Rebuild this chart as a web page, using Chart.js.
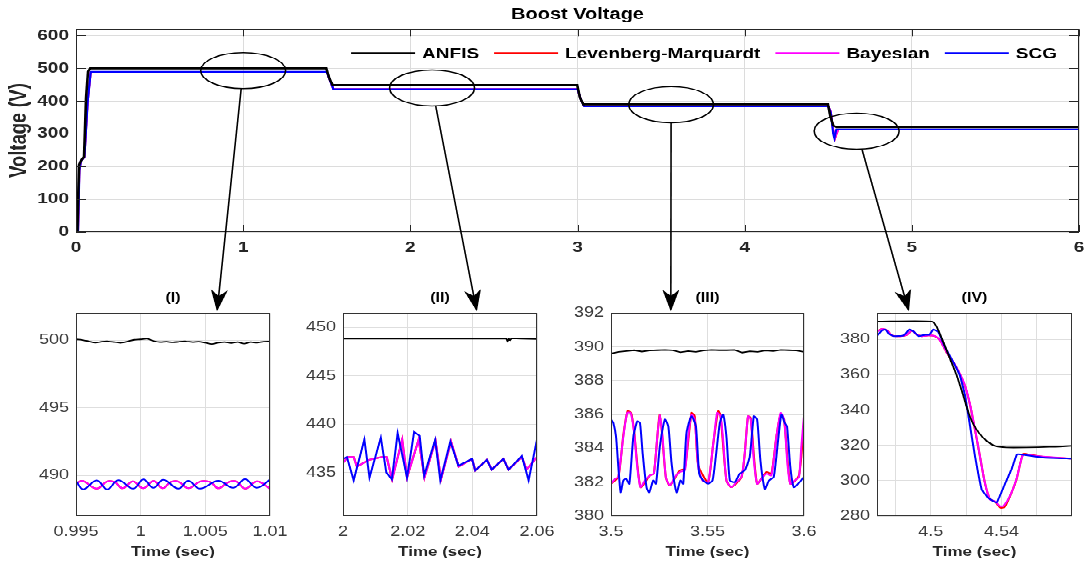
<!DOCTYPE html>
<html>
<head>
<meta charset="utf-8">
<script src="https://cdn.jsdelivr.net/npm/chart.js@4.4.1/dist/chart.umd.min.js"></script>
<style>
  html, body { margin: 0; padding: 0; background: #fff; overflow: hidden; }
  /* the reference figure is squashed vertically, so lay out tall and squash */
  #sheet { position: absolute; left: 0; top: 0; width: 1086px; height: 709px;
           transform: scaleY(0.8); transform-origin: 0 0; }
  #sheet canvas { position: absolute; }
</style>
</head>
<body>
<div id="sheet">
  <canvas id="main" width="1100" height="320" style="left:0;top:0"></canvas>
  <canvas id="inset1"></canvas>
  <canvas id="inset2"></canvas>
  <canvas id="inset3"></canvas>
  <canvas id="inset4"></canvas>
  <canvas id="overlay" width="1086" height="709" style="left:0;top:0"></canvas>
</div>
<script>
// series names and colours
const seriesNames = ['ANFIS', 'Levenberg-Marquardt', 'Bayesian', 'SCG'];
const seriesColors = ['#000000', '#ff0000', '#ff00ff', '#0000ff'];

// ---- main plot: Boost Voltage 0..6 s ----
const mainXTicks = [0, 1, 2, 3, 4, 5, 6];
const mainXLabels = ['0', '1', '2', '3', '4', '5', '6'];
const mainYTicks = [0, 100, 200, 300, 400, 500, 600];
const mainYLabels = ['0', '100', '200', '300', '400', '500', '600'];

const mainTimeAnfis = [0, 0.008, 0.018, 0.035, 0.048, 0.06, 0.072, 0.085, 1.497, 1.515, 1.535, 2.998, 3.015, 3.035, 4.498, 4.512, 4.53, 4.55, 6];
const mainAnfis     = [0, 0, 205, 222, 230, 410, 490, 500, 500, 470, 449, 449, 410, 390, 390, 355, 325, 320, 320];
const mainTimeLm    = [0, 0.012, 0.02, 0.03, 0.05, 0.07, 0.088, 1.5, 1.52, 1.54, 3.0, 3.02, 3.04, 4.5, 4.515, 4.53, 4.54, 4.55, 4.56, 6];
const mainLm        = [0, 0, 190, 218, 228, 400, 489, 489, 462, 436, 436, 405, 384, 384, 367, 310, 285, 300, 313, 313];
const mainTimeBay   = [0, 0.012, 0.02, 0.03, 0.05, 0.07, 0.088, 1.5, 1.52, 1.54, 3.0, 3.02, 3.04, 4.5, 4.515, 4.53, 4.54, 4.55, 4.56, 6];
const mainBay       = [0, 0, 190, 218, 228, 400, 489, 489, 462, 436, 436, 405, 384, 384, 367, 312, 286, 301, 313, 313];
const mainTimeScg   = [0, 0.012, 0.02, 0.03, 0.05, 0.07, 0.088, 1.5, 1.52, 1.54, 3.0, 3.02, 3.04, 4.5, 4.515, 4.53, 4.537, 4.548, 4.56, 6];
const mainScg       = [0, 0, 190, 218, 228, 400, 489, 489, 462, 436, 436, 405, 384, 384, 365, 300, 287, 313, 313, 313];

// zoom rings on the main plot (centre time / voltage) and where the arrows land
const ringTimes = [1.0, 2.13, 3.56, 4.67];
const ringVolts = [493, 440, 389, 308];
const ringHalfWidth = 0.254;   // s
const ringHalfHeight = 55;     // V
const arrowTimes = [1.0059, 2.0414, 3.531, 4.4876];

// ---- inset (I) ----
const xTicksI = [0.995, 1, 1.005, 1.01];
const xLabelsI = ['0.995', '1', '1.005', '1.01'];
const yTicksI = [490, 495, 500];
const yLabelsI = ['490', '495', '500'];
const anfisTimeI = [0.995, 0.9955, 0.996, 0.9965, 0.997, 0.9975, 0.998, 0.9985, 0.999, 0.9995, 1.0, 1.0005, 1.001, 1.0015, 1.002, 1.0025,
                    1.003, 1.0035, 1.004, 1.0045, 1.005, 1.0055, 1.006, 1.0065, 1.007, 1.0075, 1.008, 1.0085, 1.009, 1.0095, 1.01];
const anfisI = [500.05, 500.0, 499.9, 499.8, 499.88, 499.9, 499.85, 499.8, 499.9, 500.02, 500.05, 500.1, 499.93, 499.85, 499.88, 499.83,
                499.88, 499.9, 499.85, 499.88, 499.8, 499.7, 499.8, 499.85, 499.78, 499.85, 499.73, 499.85, 499.8, 499.88, 499.9];
const bayTimeI = [0.995, 0.9955, 0.9966, 0.9974, 0.998, 0.9986, 0.9994, 1.0002, 1.001, 1.0017, 1.0023, 1.0029, 1.0037, 1.0046, 1.0054,
                  1.006, 1.0068, 1.0074, 1.0081, 1.009, 1.01];
const bayI = [489.4, 489.6, 489.02, 489.55, 489.5, 489.05, 489.55, 489.05, 489.58, 489.05, 489.5, 489.55, 489.05, 489.55, 489.5,
              489.05, 489.5, 489.55, 489.02, 489.55, 489.02];
const lmTimeI = bayTimeI;   // LM sits right under the Bayesian trace here
const lmI = bayI;
const scgTimeI = [0.995, 0.99557, 0.9966, 0.99742, 0.99827, 0.99943, 1.00021, 1.00098, 1.00175, 1.00291, 1.00368, 1.00459, 1.006,
                  1.00716, 1.00807, 1.00897, 1.01];
const scgI = [489.58, 488.97, 489.63, 488.97, 489.65, 489.02, 489.7, 489.08, 489.68, 489.02, 489.6, 489.02, 489.6, 489.08, 489.72, 489.08, 489.68];

// ---- inset (II) ----
const xTicksII = [2, 2.02, 2.04, 2.06];
const xLabelsII = ['2', '2.02', '2.04', '2.06'];
const yTicksII = [435, 440, 445, 450];
const yLabelsII = ['435', '440', '445', '450'];
const anfisTimeII = [2, 2.01, 2.02, 2.03, 2.04, 2.0505, 2.0509, 2.0513, 2.0517, 2.0522, 2.055, 2.06];
const anfisII = [448.85, 448.85, 448.85, 448.85, 448.85, 448.85, 448.6, 448.82, 448.7, 448.88, 448.85, 448.8];
const bayTimeII = [2.0, 2.0016, 2.0033, 2.0043, 2.008, 2.012, 2.0135, 2.0152, 2.0183, 2.0198, 2.0234, 2.0252, 2.0286, 2.0303, 2.0334,
                   2.0358, 2.0399, 2.0409, 2.0445, 2.046, 2.0496, 2.0512, 2.0553, 2.0568, 2.06];
const bayII = [436.0, 436.6, 436.6, 435.6, 436.3, 436.6, 436.6, 434.3, 438.4, 434.5, 438.4, 434.5, 438.3, 434.3, 438.2,
               435.6, 436.4, 435.2, 436.3, 435.3, 436.4, 435.3, 436.6, 435.3, 436.6];
const lmTimeII = bayTimeII;  // hidden under Bayesian
const lmII = bayII;
const scgTimeII = [2.0, 2.0012, 2.0033, 2.0066, 2.0082, 2.0117, 2.0134, 2.0151, 2.0169, 2.0198, 2.022, 2.0237, 2.0251, 2.0285, 2.0301,
                   2.0332, 2.0357, 2.0399, 2.0409, 2.0445, 2.046, 2.0496, 2.0512, 2.0553, 2.0574, 2.06];
const scgII = [436.4, 436.6, 434.2, 438.4, 434.5, 438.6, 435.0, 434.3, 439.05, 434.5, 439.2, 438.8, 434.7, 438.35, 434.2,
               438.2, 435.7, 436.4, 435.2, 436.3, 435.3, 436.4, 435.3, 436.7, 434.2, 438.4];

// ---- inset (III) ----
const xTicksIII = [3.5, 3.55, 3.6];
const xLabelsIII = ['3.5', '3.55', '3.6'];
const yTicksIII = [380, 382, 384, 386, 388, 390, 392];
const yLabelsIII = ['380', '382', '384', '386', '388', '390', '392'];
const anfisTimeIII = [3.5, 3.504, 3.508, 3.512, 3.516, 3.52, 3.524, 3.528, 3.532, 3.536, 3.54, 3.544, 3.548, 3.552, 3.556, 3.56,
                      3.564, 3.568, 3.572, 3.576, 3.58, 3.584, 3.588, 3.592, 3.596, 3.6];
const anfisIII = [389.6, 389.7, 389.75, 389.8, 389.72, 389.78, 389.8, 389.82, 389.8, 389.68, 389.75, 389.7, 389.78, 389.82, 389.8, 389.8,
                  389.82, 389.66, 389.74, 389.7, 389.78, 389.75, 389.82, 389.8, 389.78, 389.7];
const bayTimeIII = [3.5, 3.5021, 3.5038, 3.5064, 3.5084, 3.5102, 3.5119, 3.5136, 3.5153, 3.5176, 3.5202, 3.5222, 3.524, 3.5253, 3.5267,
                    3.5284, 3.5305, 3.5331, 3.5357, 3.5383, 3.54, 3.5417, 3.5434, 3.5452, 3.5474, 3.5503, 3.5529, 3.555, 3.5567, 3.5581,
                    3.5598, 3.5624, 3.565, 3.5676, 3.5693, 3.571, 3.5724, 3.574, 3.5757, 3.5779, 3.5805, 3.5831, 3.5857, 3.5879, 3.5897,
                    3.5914, 3.5929, 3.5952, 3.5974, 3.5986, 3.6];
const bayIII = [381.9, 382.2, 382.3, 384.7, 386.1, 386.1, 385.0, 382.9, 381.7, 382.1, 382.4, 382.5, 384.7, 386.0, 384.7,
                382.3, 381.8, 382.3, 382.6, 382.7, 384.7, 386.0, 385.7, 382.9, 382.1, 382.0, 384.2, 386.1, 385.9, 384.5,
                382.1, 381.7, 382.0, 382.3, 383.7, 385.9, 385.7, 383.3, 381.9, 382.2, 382.5, 382.4, 384.7, 386.1, 385.7,
                383.1, 381.9, 382.1, 382.3, 384.1, 385.9];
const lmTimeIII = [3.5, 3.5038, 3.5064, 3.5086, 3.5104, 3.5119, 3.5153, 3.5202, 3.5222, 3.5253, 3.5284, 3.5305, 3.5357, 3.5383, 3.5417,
                   3.5434, 3.5452, 3.5503, 3.5529, 3.5555, 3.5567, 3.5598, 3.5624, 3.5676, 3.5693, 3.571, 3.5724, 3.5757, 3.5805, 3.5831,
                   3.5857, 3.5879, 3.5897, 3.5929, 3.5974, 3.6];
const lmIII = [381.9, 382.3, 384.8, 386.2, 386.1, 385.1, 381.7, 382.4, 382.5, 386.0, 382.3, 381.8, 382.7, 382.8, 386.1,
               385.9, 383.0, 382.0, 384.2, 386.2, 386.0, 382.1, 381.7, 382.3, 383.7, 385.9, 385.8, 381.9, 382.6, 382.5,
               384.7, 386.0, 385.7, 381.9, 382.4, 385.5];
const scgTimeIII = [3.5, 3.5012, 3.5026, 3.5038, 3.505, 3.5064, 3.5078, 3.5095, 3.5116, 3.5136, 3.515, 3.5164, 3.5184, 3.5198, 3.5219,
                    3.5233, 3.5253, 3.5279, 3.5297, 3.5314, 3.534, 3.536, 3.5374, 3.5391, 3.5417, 3.544, 3.5457, 3.5478, 3.5503, 3.5526,
                    3.5543, 3.5564, 3.5581, 3.5598, 3.5616, 3.5641, 3.5667, 3.5693, 3.5719, 3.574, 3.5757, 3.5774, 3.5797, 3.5819,
                    3.5843, 3.5866, 3.5883, 3.59, 3.5912, 3.5929, 3.5947, 3.5969, 3.6];
const scgIII = [385.7, 385.5, 384.7, 382.9, 381.4, 382.1, 382.2, 381.9, 384.7, 385.6, 385.5, 383.7, 381.7, 381.4, 382.1,
                381.9, 384.1, 385.7, 385.3, 383.1, 381.4, 382.1, 381.9, 384.9, 385.9, 385.3, 382.5, 382.1, 381.9, 382.1,
                383.5, 385.5, 386.0, 384.7, 382.1, 382.0, 382.5, 382.7, 383.5, 385.9, 385.7, 383.3, 381.6, 382.1,
                382.3, 384.5, 386.0, 385.5, 385.3, 382.9, 381.7, 381.9, 382.3];

// ---- inset (IV) ----
const xTicksIV = [4.48, 4.5, 4.52, 4.54, 4.56];
const xLabelsIV = ['', '4.5', '', '4.54', ''];
const yTicksIV = [280, 300, 320, 340, 360, 380];
const yLabelsIV = ['280', '300', '320', '340', '360', '380'];
const anfisTimeIV = [4.4696, 4.5006, 4.5034, 4.5071, 4.5109, 4.5147, 4.5184, 4.5213, 4.5241, 4.5278, 4.5316, 4.5363, 4.5429, 4.5541, 4.5673, 4.5795];
const anfisIV = [390.2, 390.2, 387.0, 378.5, 369.0, 359.5, 348.2, 338.7, 332.0, 326.4, 322.6, 319.7, 318.8, 318.8, 319.1, 319.7];
const bayTimeIV = [4.4696, 4.4724, 4.4752, 4.478, 4.4827, 4.4865, 4.4893, 4.4921, 4.4949, 4.4987, 4.5024, 4.5053, 4.509, 4.5128, 4.5165,
                   4.5194, 4.5222, 4.525, 4.5278, 4.5306, 4.5335, 4.5363, 4.5391, 4.541, 4.5448, 4.5485, 4.5523, 4.556, 4.5636, 4.5795];
const bayIV = [384.5, 386.1, 385.1, 382.3, 381.9, 382.7, 385.1, 382.7, 381.9, 382.3, 381.9, 379.4, 372.8, 367.1, 360.5,
               353.8, 343.4, 329.2, 314.0, 298.9, 289.4, 288.4, 285.6, 285.6, 291.3, 300.8, 315.0, 314.4, 313.6, 312.5];
const lmTimeIV = [4.4696, 4.4724, 4.4752, 4.478, 4.4827, 4.4865, 4.4893, 4.4921, 4.4949, 4.4987, 4.5024, 4.5053, 4.509, 4.5128, 4.5165,
                  4.5194, 4.5222, 4.525, 4.5278, 4.5306, 4.5335, 4.5365, 4.539, 4.5405, 4.542, 4.5448, 4.5485, 4.5523, 4.556, 4.5636, 4.5795];
const lmIV = [384.8, 386.0, 385.2, 382.3, 381.9, 382.6, 385.0, 382.8, 381.9, 382.3, 381.8, 379.5, 372.5, 367.0, 360.3,
              353.5, 343.0, 329.0, 314.0, 299.0, 289.6, 288.0, 285.0, 284.6, 285.3, 291.0, 300.5, 315.2, 314.8, 313.5, 312.5];
const scgTimeIV = [4.4696, 4.4724, 4.4743, 4.4762, 4.479, 4.4846, 4.488, 4.4906, 4.493, 4.4968, 4.4992, 4.5015, 4.5043, 4.5081, 4.5128,
                   4.5165, 4.5194, 4.5222, 4.525, 4.5288, 4.5325, 4.5372, 4.5419, 4.5457, 4.5489, 4.5541, 4.5636, 4.5795];
const scgIV = [382.3, 385.1, 385.7, 383.2, 381.9, 382.3, 385.7, 384.2, 381.9, 382.7, 382.7, 385.7, 384.2, 375.6, 367.1,
               359.5, 348.2, 331.1, 314.0, 295.1, 290.3, 287.5, 297.9, 306.4, 315.0, 314.4, 313.1, 312.5];

// ---------------------------------------------------------------
const FONT = '"Liberation Sans", Arial, Helvetica, sans-serif';
Chart.defaults.font.family = FONT;

function pts(times, vals) {
    return times.map((t, i) => ({ x: t, y: vals[i] }));
}

// axis box (Matlab style) with optional inward ticks
const framePlugin = {
    id: 'frame',
    afterDraw(chart, args, opts) {
        const ctx = chart.ctx;
        const a = chart.chartArea;
        ctx.save();
        ctx.strokeStyle = opts.color || '#262626';
        ctx.lineWidth = 1;
        ctx.strokeRect(Math.round(a.left) + 0.5, Math.round(a.top) + 0.5, Math.round(a.width) - 1, Math.round(a.height) - 1);
        if (opts.tickLen) {
            ctx.beginPath();
            chart.scales.x.ticks.forEach(t => {
                const px = Math.round(chart.scales.x.getPixelForValue(t.value)) + 0.5;
                ctx.moveTo(px, a.bottom); ctx.lineTo(px, a.bottom - opts.tickLenV);
                ctx.moveTo(px, a.top); ctx.lineTo(px, a.top + opts.tickLenV);
            });
            chart.scales.y.ticks.forEach(t => {
                const py = Math.round(chart.scales.y.getPixelForValue(t.value)) + 0.5;
                ctx.moveTo(a.left, py); ctx.lineTo(a.left + opts.tickLen, py);
                ctx.moveTo(a.right, py); ctx.lineTo(a.right - opts.tickLen, py);
            });
            ctx.stroke();
        }
        ctx.restore();
    }
};

// legend drawn inside the plot, top right, line samples
const lineLegend = {
    id: 'lineLegend',
    afterDraw(chart) {
        const ctx = chart.ctx;
        const a = chart.chartArea;
        const sets = chart.data.datasets;
        const sample = 64, gap = 7, itemGap = 15;
        ctx.save();
        ctx.font = 'bold 19px ' + FONT;
        ctx.textBaseline = 'middle';
        const widths = sets.map(d => ctx.measureText(d.label).width);
        let total = 0;
        widths.forEach(w => { total += sample + gap + w; });
        total += itemGap * (sets.length - 1);
        let x = a.right - 22 - total;
        const y = a.top + 30;
        sets.forEach((d, i) => {
            ctx.strokeStyle = d.borderColor;
            ctx.lineWidth = 2;
            ctx.beginPath();
            ctx.moveTo(x, y); ctx.lineTo(x + sample, y);
            ctx.stroke();
            ctx.fillStyle = '#000';
            ctx.fillText(d.label, x + sample + gap, y + 1);
            x += sample + gap + widths[i] + itemGap;
        });
        ctx.restore();
    }
};

function fixedTicks(vals) {
    return s => { s.ticks = vals.map(v => ({ value: v })); };
}

function makeDatasets(data, widths, tension) {
    // draw order: ANFIS on top, then SCG, Bayesian, LM at the bottom
    const order = [0, 3, 2, 1];
    return data.map((d, i) => ({
        label: seriesNames[i],
        data: d,
        borderColor: seriesColors[i],
        backgroundColor: seriesColors[i],
        borderWidth: widths[i],
        pointRadius: 0,
        tension: tension[i],
        order: order[i]
    }));
}

// ---- main chart ----
const mainChart = new Chart(document.getElementById('main'), {
    type: 'line',
    data: {
        datasets: makeDatasets(
            [pts(mainTimeAnfis, mainAnfis), pts(mainTimeLm, mainLm), pts(mainTimeBay, mainBay), pts(mainTimeScg, mainScg)],
            [2.6, 2, 2, 2.2], [0, 0, 0, 0])
    },
    options: {
        responsive: false, animation: false, events: [], devicePixelRatio: 1,
        layout: { padding: { left: 0, right: 21, top: 0, bottom: 0 } },
        plugins: {
            legend: { display: false },
            tooltip: { enabled: false },
            title: {
                display: true, text: 'Boost Voltage', fullSize: false, color: '#000',
                font: { size: 20, weight: 'bold' }, padding: { top: 6.8, bottom: 5.5 }
            },
            frame: { color: '#262626', tickLen: 10, tickLenV: 9 }
        },
        scales: {
            x: {
                type: 'linear', min: 0, max: 6,
                afterBuildTicks: fixedTicks(mainXTicks),
                afterFit: s => { s.height = 30; },
                grid: { color: '#dcdcdc', drawTicks: false },
                border: { display: false },
                ticks: {
                    padding: 8, color: '#262626', font: { size: 19, weight: 'bold' },
                    maxRotation: 0, autoSkip: false, callback: (v, i) => mainXLabels[i]
                }
            },
            y: {
                min: 0, max: 620,
                afterBuildTicks: fixedTicks(mainYTicks),
                afterFit: s => { s.width = 76; },
                grid: { color: '#dcdcdc', drawTicks: false },
                border: { display: false },
                ticks: {
                    padding: 7, color: '#262626', font: { size: 19, weight: 'bold' },
                    autoSkip: false, callback: (v, i) => mainYLabels[i]
                },
                title: {
                    display: true, text: 'Voltage (V)', color: '#262626',
                    font: { size: 23, weight: 'bold' }, padding: { top: 6, bottom: 0 }
                }
            }
        }
    },
    plugins: [framePlugin, lineLegend]
});

// ---- insets ----
const insetTop = 350;
const insetHeight = 359;
const insetSpecs = [
    { id: 'inset1', left: 76, right: 270, title: '(I)', xMin: 0.995, xMax: 1.01, yMin: 487, yMax: 502,
      xTicks: xTicksI, xLabels: xLabelsI, yTicks: yTicksI, yLabels: yLabelsI,
      data: [pts(anfisTimeI, anfisI), pts(lmTimeI, lmI), pts(bayTimeI, bayI), pts(scgTimeI, scgI)], tension: [0.3, 0.4, 0.4, 0.4] },
    { id: 'inset2', left: 343, right: 537, title: '(II)', xMin: 2, xMax: 2.06, yMin: 430.5, yMax: 451.5,
      xTicks: xTicksII, xLabels: xLabelsII, yTicks: yTicksII, yLabels: yLabelsII,
      data: [pts(anfisTimeII, anfisII), pts(lmTimeII, lmII), pts(bayTimeII, bayII), pts(scgTimeII, scgII)], tension: [0, 0, 0, 0] },
    { id: 'inset3', left: 611, right: 804, title: '(III)', xMin: 3.5, xMax: 3.6, yMin: 380, yMax: 392,
      xTicks: xTicksIII, xLabels: xLabelsIII, yTicks: yTicksIII, yLabels: yLabelsIII,
      data: [pts(anfisTimeIII, anfisIII), pts(lmTimeIII, lmIII), pts(bayTimeIII, bayIII), pts(scgTimeIII, scgIII)], tension: [0, 0.2, 0.2, 0.2] },
    { id: 'inset4', left: 877, right: 1072, title: '(IV)', xMin: 4.4695, xMax: 4.58, yMin: 280, yMax: 395,
      xTicks: xTicksIV, xLabels: xLabelsIV, yTicks: yTicksIV, yLabels: yLabelsIV,
      data: [pts(anfisTimeIV, anfisIV), pts(lmTimeIV, lmIV), pts(bayTimeIV, bayIV), pts(scgTimeIV, scgIV)], tension: [0.2, 0.2, 0.2, 0.1] }
];

const insets = insetSpecs.map(sp => {
    const cv = document.getElementById(sp.id);
    const left = sp.left - 76;
    cv.width = sp.right - sp.left + 76 + 30;
    cv.height = insetHeight;
    cv.style.left = left + 'px';
    cv.style.top = insetTop + 'px';
    const chart = new Chart(cv, {
        type: 'line',
        data: { datasets: makeDatasets(sp.data, [1.8, 2, 2, 2], sp.tension) },
        options: {
            responsive: false, animation: false, events: [], devicePixelRatio: 1,
            layout: { padding: { left: 0, right: 30, top: 0, bottom: 0 } },
            plugins: {
                legend: { display: false },
                tooltip: { enabled: false },
                title: {
                    display: true, text: sp.title, fullSize: false, color: '#000',
                    font: { size: 16, weight: 'bold' }, padding: { top: 12.9, bottom: 9.15 }
                },
                frame: { color: '#333' }
            },
            scales: {
                x: {
                    type: 'linear', min: sp.xMin, max: sp.xMax,
                    afterBuildTicks: fixedTicks(sp.xTicks),
                    afterFit: s => { s.height = 64; },
                    grid: { color: '#dedede', drawTicks: false },
                    border: { display: false },
                    ticks: {
                        padding: 9, color: '#3a3a3a', font: { size: 18 },
                        maxRotation: 0, autoSkip: false, callback: (v, i) => sp.xLabels[i]
                    },
                    title: {
                        display: true, text: 'Time (sec)', color: '#262626',
                        font: { size: 17, weight: 'bold' }, padding: { top: 0, bottom: 8 }
                    }
                },
                y: {
                    min: sp.yMin, max: sp.yMax,
                    afterBuildTicks: fixedTicks(sp.yTicks),
                    afterFit: s => { s.width = 76; },
                    grid: { color: '#dedede', drawTicks: false },
                    border: { display: false },
                    ticks: {
                        padding: 7, color: '#3a3a3a', font: { size: 18 },
                        autoSkip: false, callback: (v, i) => sp.yLabels[i]
                    }
                }
            }
        },
        plugins: [framePlugin]
    });
    return { chart, left };
});

// ---- rings and arrows linking the main plot to the insets ----
function drawCallouts() {
    const ctx = document.getElementById('overlay').getContext('2d');
    const xs = mainChart.scales.x, ys = mainChart.scales.y;
    ctx.clearRect(0, 0, 1086, 709);
    ctx.strokeStyle = '#000';
    ctx.fillStyle = '#000';
    ctx.lineWidth = 1.6;
    ringTimes.forEach((t, i) => {
        const cx = xs.getPixelForValue(t);
        const cy = ys.getPixelForValue(ringVolts[i]);
        const rx = xs.getPixelForValue(t + ringHalfWidth) - cx;
        const ry = ys.getPixelForValue(ringVolts[i] - ringHalfHeight) - cy;
        ctx.beginPath();
        ctx.ellipse(cx, cy, rx, ry, 0, 0, Math.PI * 2);
        ctx.stroke();

        const inset = insets[i];
        const tipX = inset.left + inset.chart.scales.x.getPixelForValue(arrowTimes[i]);
        const tipY = insetTop + inset.chart.chartArea.top - 2;
        const dx = tipX - cx, dy = tipY - cy;
        const s = 1 / Math.sqrt((dx / rx) ** 2 + (dy / ry) ** 2);
        const sx = cx + dx * s, sy = cy + dy * s;
        const len = Math.hypot(tipX - sx, tipY - sy);
        const ux = (tipX - sx) / len, uy = (tipY - sy) / len;
        const headLen = 27, headHalf = 8.5;
        const bx = tipX - ux * headLen, by = tipY - uy * headLen;
        ctx.beginPath();
        ctx.moveTo(sx, sy);
        ctx.lineTo(bx + ux * 8, by + uy * 8);
        ctx.stroke();
        ctx.beginPath();
        ctx.moveTo(tipX, tipY);
        ctx.lineTo(bx - uy * headHalf, by + ux * headHalf);
        ctx.lineTo(tipX - ux * headLen * 0.72, tipY - uy * headLen * 0.72);
        ctx.lineTo(bx + uy * headHalf, by - ux * headHalf);
        ctx.closePath();
        ctx.fill();
    });
}
drawCallouts();
</script>
</body>
</html>
